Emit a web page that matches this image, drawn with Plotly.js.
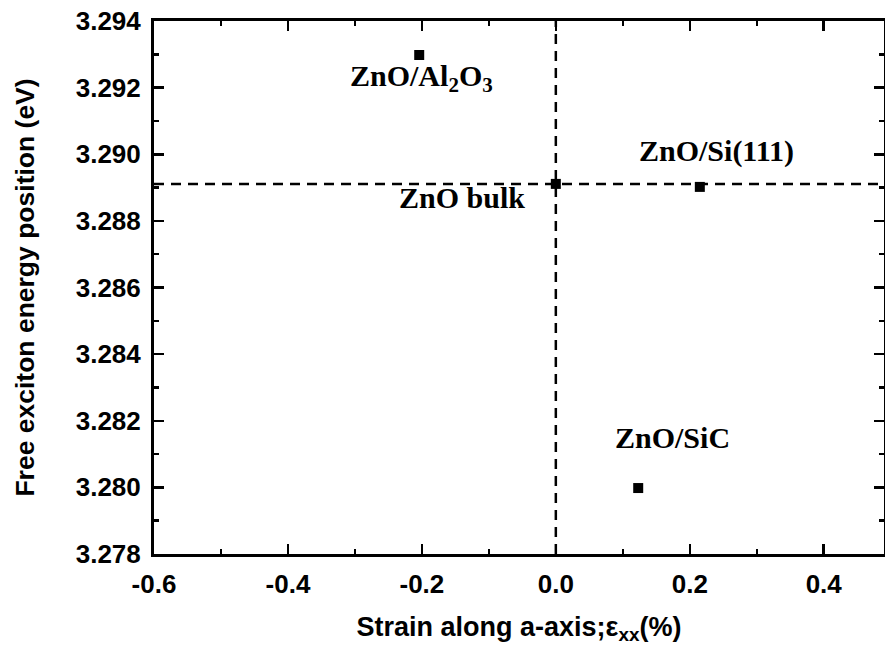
<!DOCTYPE html>
<html>
<head>
<meta charset="utf-8">
<script src="https://cdn.plot.ly/plotly-3.0.1.min.js"></script>
<style>html,body{margin:0;padding:0;background:#fff;}#chart{width:885px;height:654px;}</style>
</head>
<body>
<div id="chart"></div>
<script>
// Data
const samples = ["ZnO/Al<sub>2</sub>O<sub>3</sub>", "ZnO bulk", "ZnO/Si(111)", "ZnO/SiC"];
const strain = [-0.204, 0.0, 0.215, 0.123];
const energy = [3.29298, 3.28911, 3.28902, 3.27998];
// label anchor positions (data coordinates)
const labelX = [-0.201, -0.140, 0.240, 0.1735];
const labelY = [3.2923, 3.28870, 3.29010, 3.2815];
// reference lines
const bulkStrain = 0.0;
const bulkEnergy = 3.28911;
// ticks
const xTickVals = [-0.6, -0.4, -0.2, 0.0, 0.2, 0.4];
const xTickText = ["-0.6", "-0.4", "-0.2", "0.0", "0.2", "0.4"];
const yTickVals = [3.278, 3.280, 3.282, 3.284, 3.286, 3.288, 3.290, 3.292, 3.294];
const yTickText = ["3.278", "3.280", "3.282", "3.284", "3.286", "3.288", "3.290", "3.292", "3.294"];

const xRange = [-0.6, 0.49];
const yRange = [3.278, 3.294];

const trace = {
  x: strain, y: energy, type: 'scatter', mode: 'markers',
  marker: {symbol: 'square', size: 10, color: '#000'},
  hoverinfo: 'x+y', showlegend: false
};

const annotations = samples.map((s, i) => ({
  x: labelX[i], y: labelY[i], xref: 'x', yref: 'y', text: s, showarrow: false,
  xanchor: 'center', yanchor: 'middle',
  font: {family: '"Liberation Serif", "Times New Roman", serif', size: 30, color: '#000', weight: 'bold'}
}));

const sansBold = 'Arial, "Liberation Sans", sans-serif';

const axisCommon = {
  showgrid: false, zeroline: false, showline: true, linecolor: '#000', linewidth: 3,
  mirror: 'allticks', ticks: 'inside', ticklen: 10, tickwidth: 2.5, tickcolor: '#000',
  tickfont: {family: sansBold, size: 26, color: '#000', weight: 'bold'},
  minor: {ticks: 'inside', ticklen: 5, tickwidth: 2.5, tickcolor: '#000', showgrid: false}
};

const layout = {
  width: 885, height: 654,
  margin: {l: 154, r: 1, t: 21, b: 100},
  paper_bgcolor: '#fff', plot_bgcolor: '#fff',
  xaxis: Object.assign({}, axisCommon, {
    range: xRange, tickmode: 'array', tickvals: xTickVals, ticktext: xTickText,
    minor: Object.assign({}, axisCommon.minor, {tickmode: 'linear', tick0: -0.6, dtick: 0.1}),
    ticklabelstandoff: 5,
    title: {text: 'Strain along a-axis;ε<sub>xx</sub>(%)', standoff: 19,
      font: {family: sansBold, size: 27, color: '#000', weight: 'bold'}}
  }),
  yaxis: Object.assign({}, axisCommon, {
    range: yRange, tickmode: 'array', tickvals: yTickVals, ticktext: yTickText,
    minor: Object.assign({}, axisCommon.minor, {tickmode: 'linear', tick0: 3.278, dtick: 0.001}),
    ticklabelstandoff: 5,
    title: {text: 'Free exciton energy position (eV)\u00a0\u00a0\u00a0', standoff: 34,
      font: {family: sansBold, size: 26.5, color: '#000', weight: 'bold'}}
  }),
  shapes: [
    {type: 'line', xref: 'x', yref: 'paper', x0: bulkStrain, x1: bulkStrain, y0: 0, y1: 1,
     line: {color: '#000', width: 2.5, dash: '10px,7px'}},
    {type: 'line', xref: 'paper', yref: 'y', x0: 0, x1: 1, y0: bulkEnergy, y1: bulkEnergy,
     line: {color: '#000', width: 2.5, dash: '10px,7px'}}
  ],
  annotations: annotations
};

Plotly.newPlot('chart', [trace], layout, {displayModeBar: false, staticPlot: true});
</script>
</body>
</html>
